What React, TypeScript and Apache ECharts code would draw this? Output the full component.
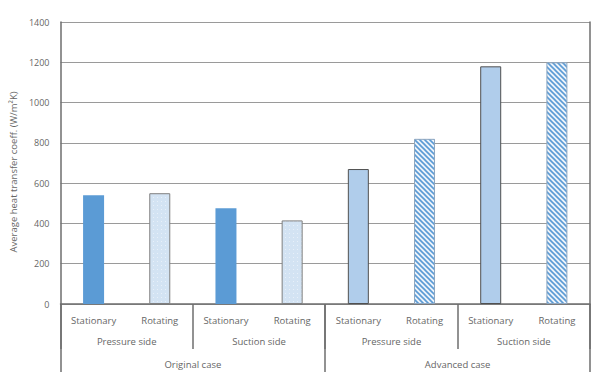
import React, { useEffect, useRef } from "react";
import * as echarts from "echarts";

const categories = ["Stationary", "Rotating", "Stationary", "Rotating", "Stationary", "Rotating", "Stationary", "Rotating"];
const sides = ["Pressure side", "Suction side", "Pressure side", "Suction side"];
const cases = ["Original case", "Advanced case"];
const values = [540, 550, 475, 415, 670, 820, 1180, 1200];
const yTicks = { min: 0, max: 1400, interval: 200 };
const yTitle = "Average heat transfer coeff. (W/m\u00B2K)";

const stripeSvg =
  "data:image/svg+xml;charset=utf-8," +
  encodeURIComponent(
    '<svg xmlns="http://www.w3.org/2000/svg" width="5" height="5">' +
      '<rect width="5" height="5" fill="#eef4fb"/>' +
      '<path d="M-1,-1 L6,6 M-1,4 L1,6 M4,-1 L6,1" stroke="#5b9bd5" stroke-width="1.6"/>' +
      "</svg>"
  );
const dotSvg =
  "data:image/svg+xml;charset=utf-8," +
  encodeURIComponent(
    '<svg xmlns="http://www.w3.org/2000/svg" width="4" height="4">' +
      '<rect width="4" height="4" fill="#d3e3f3"/>' +
      '<rect x="1" y="1" width="1" height="1" fill="#e8f0f9"/>' +
      "</svg>"
  );

export default function App() {
  const ref = useRef<HTMLDivElement>(null);
  useEffect(() => {
    document.body.style.margin = "0";
    if (!ref.current) return;
    const chart = echarts.init(ref.current, undefined, { renderer: "svg" });
    const styles = [
      { color: "#5b9bd5", borderColor: "#5b9bd5", borderWidth: 0 },
      { color: { image: dotSvg, repeat: "repeat" }, borderColor: "#7f7f7f", borderWidth: 1 },
      { color: "#5b9bd5", borderColor: "#5b9bd5", borderWidth: 0 },
      { color: { image: dotSvg, repeat: "repeat" }, borderColor: "#7f7f7f", borderWidth: 1 },
      { color: "#b0cdeb", borderColor: "#505050", borderWidth: 1 },
      { color: { image: stripeSvg, repeat: "repeat" }, borderColor: "#8da6c0", borderWidth: 1 },
      { color: "#b0cdeb", borderColor: "#505050", borderWidth: 1 },
      { color: { image: stripeSvg, repeat: "repeat" }, borderColor: "#8da6c0", borderWidth: 1 },
    ];
    const font = "'Open Sans', sans-serif";
    const labelColor = "#666666";
    const tickLine = { color: "#6e6e6e", width: 1.5 };
    chart.setOption({
      animation: false,
      grid: { left: 57, right: 3, top: 22, bottom: 78 },
      xAxis: [
        {
          type: "category",
          data: categories,
          position: "bottom",
          axisLine: { show: true, lineStyle: { color: "#6e6e6e", width: 1.5 } },
          axisTick: { show: false },
          axisLabel: { interval: 0, margin: 11, fontSize: 9.5, color: labelColor, fontFamily: font },
        },
        {
          type: "category",
          data: sides,
          position: "bottom",
          axisLine: { show: false },
          axisTick: { show: true, length: 45, interval: 0, lineStyle: tickLine },
          axisLabel: { interval: 0, margin: 32, fontSize: 9.5, color: labelColor, fontFamily: font },
        },
        {
          type: "category",
          data: cases,
          position: "bottom",
          axisLine: { show: false },
          axisTick: { show: true, length: 68, interval: 0, lineStyle: tickLine },
          axisLabel: { interval: 0, margin: 55, fontSize: 9.5, color: labelColor, fontFamily: font },
        },
      ],
      yAxis: [
        {
          type: "value",
          min: yTicks.min,
          max: yTicks.max,
          interval: yTicks.interval,
          name: yTitle,
          nameLocation: "middle",
          nameGap: 40,
          nameTextStyle: { fontSize: 9.5, color: labelColor, fontFamily: font, padding: [0, 18, 0, 0] },
          axisLine: { show: true, lineStyle: { color: "#6e6e6e", width: 1.5 } },
          axisTick: { show: false },
          axisLabel: { fontSize: 9, color: labelColor, fontFamily: font, margin: 11, formatter: (v: number) => String(v) },
          splitLine: { show: true, lineStyle: { color: "#9a9a9a", width: 1.2 } },
        },
        {
          type: "value",
          position: "right",
          min: yTicks.min,
          max: yTicks.max,
          interval: yTicks.interval,
          axisLine: { show: true, lineStyle: { color: "#6e6e6e", width: 1.5 } },
          axisTick: { show: false },
          axisLabel: { show: false },
          splitLine: { show: false },
        },
      ],
      series: [
        {
          type: "bar",
          xAxisIndex: 0,
          yAxisIndex: 0,
          barWidth: 21,
          data: values.map((v, i) => ({ value: v, itemStyle: styles[i] })),
        },
      ],
    });
    return () => chart.dispose();
  }, []);
  return <div ref={ref} style={{ width: 593, height: 382 }} />;
}
